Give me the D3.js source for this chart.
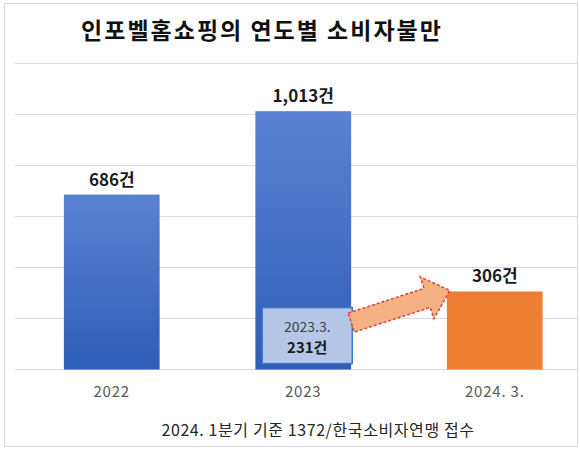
<!DOCTYPE html>
<html><head><meta charset="utf-8">
<script src="https://cdn.jsdelivr.net/npm/d3@7"></script>
<style>
html,body{margin:0;padding:0;background:#fff;}
svg{display:block;font-family:"Noto Sans CJK KR","Noto Sans",sans-serif;}
</style></head>
<body><svg id="c" width="580" height="453"></svg>
<script>
const title = "인포벨홈쇼핑의 연도별 소비자불만";
const categories = ["2022", "2023", "2024. 3."];
const values = [686, 1013, 306];
const valueLabels = ["686건", "1,013건", "306건"];
const barColors = ["blue", "blue", "#ED7D31"];
const yTicks = [0, 200, 400, 600, 800, 1000, 1200];
const noteLabel = ["2023.3.", "231건"];
const noteValue = 231;
const footnote = "2024. 1분기 기준 1372/한국소비자연맹 접수";

const svg = d3.select("#c");
const defs = svg.append("defs");
const g = defs.append("linearGradient").attr("id","blueGrad").attr("x1",0).attr("y1",0).attr("x2",0).attr("y2",1);
g.append("stop").attr("offset","0%").attr("stop-color","#5B82D2");
g.append("stop").attr("offset","100%").attr("stop-color","#2D5DB8");

// frame
svg.append("rect").attr("x",4.5).attr("y",3.5).attr("width",573).attr("height",443)
  .attr("fill","#fff").attr("stroke","#D9D9D9").attr("stroke-width",1);

const x = d3.scaleBand().domain(categories).range([16, 590.5]).paddingInner(0.5).paddingOuter(0.25);
const y = d3.scaleLinear().domain([0, 1200]).range([369.5, 63.5]);

// gridlines
svg.append("g").selectAll("line").data(yTicks).join("line")
  .attr("x1",15).attr("x2",577)
  .attr("y1",d=>y(d)).attr("y2",d=>y(d))
  .attr("stroke","#D9D9D9").attr("stroke-width",1.2);

// title
svg.append("text").attr("x",262).attr("y",39).attr("text-anchor","middle")
  .attr("font-size",23).attr("font-weight","bold").attr("fill","#111")
  .attr("letter-spacing",2).text(title);

// bars
const data = categories.map((c,i)=>({c, v:values[i], lab:valueLabels[i], col:barColors[i]}));
svg.append("g").selectAll("rect").data(data).join("rect")
  .attr("x",d=>x(d.c)).attr("width",x.bandwidth())
  .attr("y",d=>y(d.v)).attr("height",d=>y(0)-y(d.v))
  .attr("fill",d=>d.col==="blue"?"url(#blueGrad)":d.col);

// value labels
svg.append("g").selectAll("text").data(data).join("text")
  .attr("x",d=>x(d.c)+x.bandwidth()/2).attr("y",d=>y(d.v)-9)
  .attr("text-anchor","middle").attr("font-size",17).attr("font-weight","bold")
  .attr("fill","#1A1A1A").text(d=>d.lab);

// category labels
svg.append("g").selectAll("text").data(categories).join("text")
  .attr("x",d=>x(d)+x.bandwidth()/2).attr("y",397)
  .attr("text-anchor","middle").attr("font-size",15).attr("letter-spacing",0.8)
  .attr("fill","#595959").text(d=>d);

// annotation box
const bx = x(categories[1]) + x.bandwidth()/2 - 41;
const by = y(noteValue) - 3;
const bw = 90, bh = 56;
svg.append("rect").attr("x",bx).attr("y",by).attr("width",bw).attr("height",bh)
  .attr("fill","#B4C7E7").attr("stroke","#4472C4").attr("stroke-width",1.5);
svg.append("text").attr("x",bx+bw/2).attr("y",by+24).attr("text-anchor","middle")
  .attr("font-size",14).attr("fill","#404040").text(noteLabel[0]);
svg.append("text").attr("x",bx+bw/2).attr("y",by+45).attr("text-anchor","middle")
  .attr("font-size",15).attr("font-weight","bold").attr("fill","#1A1A1A").text(noteLabel[1]);

// arrow
const tail = [bx+bw-1, by+15];
const tip = [x(categories[2])+3, y(values[2])-1];
const dx = tip[0]-tail[0], dy = tip[1]-tail[1];
const L = Math.hypot(dx,dy), ang = Math.atan2(dy,dx)*180/Math.PI;
const sw = 10, hw = 22, hl = 24;
const pts = [[0,-sw],[L-hl,-sw],[L-hl,-hw],[L,0],[L-hl,hw],[L-hl,sw],[0,sw]];
svg.append("path")
  .attr("d", d3.line()(pts) + "Z")
  .attr("transform",`translate(${tail[0]},${tail[1]}) rotate(${ang})`)
  .attr("fill","#F4B183").attr("stroke","#E0403A").attr("stroke-width",1.5)
  .attr("stroke-dasharray","3,2");

// footnote
svg.append("text").attr("x",318).attr("y",436).attr("text-anchor","middle")
  .attr("font-size",16).attr("letter-spacing",0.6).attr("fill","#262626").text(footnote);
</script></body></html>
